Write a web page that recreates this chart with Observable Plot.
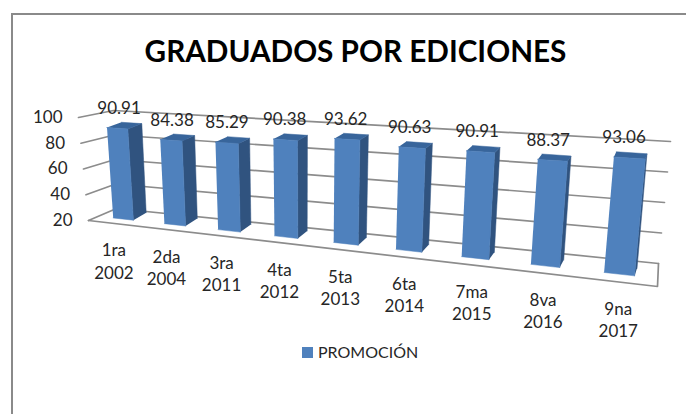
<!DOCTYPE html>
<html lang="es">
<head>
<meta charset="utf-8">
<script src="https://cdn.jsdelivr.net/npm/d3@7"></script>
<script src="https://cdn.jsdelivr.net/npm/@observablehq/plot@0.6"></script>
<style>
  html, body { margin: 0; padding: 0; background: #fff; }
  #chart { position: relative; width: 686px; height: 414px; overflow: hidden; font-family: Lato, sans-serif; box-sizing: border-box; }
  #frame { position: absolute; left: 11px; top: 13px; right: -4px; bottom: -4px; border: 2px solid #8a8a8a; }
  #title { position: absolute; left: 0; top: 30px; width: 711px; text-align: center; font-size: 29.7px; font-weight: 700; color: #000; line-height: 42px; white-space: nowrap; }
  #plot { position: absolute; left: 0; top: 80px; }
  #legend { position: absolute; left: 302px; top: 342px; display: flex; align-items: center; gap: 5px; font-size: 16px; color: #262626; line-height: 20px; }
  #legend i { display: block; width: 11px; height: 11px; background: #4f81bd; }
</style>
</head>
<body>
<div id="chart">
  <div id="frame"></div>
  <div id="title">GRADUADOS POR EDICIONES</div>
  <div id="plot"></div>
  <div id="legend"><i></i><span>PROMOCIÓN</span></div>
</div>
<script>
const ediciones = ["1ra", "2da", "3ra", "4ta", "5ta", "6ta", "7ma", "8va", "9na"];
const anios = ["2002", "2004", "2011", "2012", "2013", "2014", "2015", "2016", "2017"];
const promocion = [90.91, 84.38, 85.29, 90.38, 93.62, 90.63, 90.91, 88.37, 93.06];
const ticks = [100, 80, 60, 40, 20];

// The 3D box of the Excel chart: where its corners land in the picture.
const box = {
  frontLeft: {bottom: [88, 220], top: [78, 117]},
  backLeft: {bottom: [116, 208], top: [113, 110]},
  frontRight: {bottom: [657, 286], top: [670, 153]},
  backRight: {bottom: [658, 263], top: [670, 141]}
};
const lerp = (a, b, f) => a + (b - a) * f;
const mix = (a, b, f) => [lerp(a[0], b[0], f), lerp(a[1], b[1], f)];
const valueFrac = (d) => (d - 20) / 80;
const keystone = 1.26;
const along = (u) => u / (u + keystone * (1 - u));
function project(t, v, w) {
  const L = mix(mix(box.frontLeft.bottom, box.frontLeft.top, v), mix(box.backLeft.bottom, box.backLeft.top, v), w);
  const R = mix(mix(box.frontRight.bottom, box.frontRight.top, v), mix(box.backRight.bottom, box.backRight.top, v), w);
  return mix(L, R, t);
}
const n = promocion.length;
const frontDepth = 0.35, halfBar = 0.2;
const slot = (i, off) => along((i + 0.5 + off) / n);
const deep = (p, t, v) => [p[0] + lerp(lerp(13.5, 2, t), lerp(15, 1, t), v), p[1] + lerp(-7.5, -5, v)];
const pt = (p, key) => ({x: p[0], y: p[1], key});

const front = [], side = [], lid = [];
promocion.forEach((val, i) => {
  const v = valueFrac(val);
  const tl = slot(i, -halfBar), tr = slot(i, halfBar);
  const a = project(tl, 0, frontDepth), b = project(tr, 0, frontDepth);
  const c = project(tr, v, frontDepth), d = project(tl, v, frontDepth);
  [a, b, c, d].forEach((p) => front.push(pt(p, i)));
  [b, c, deep(c, tr, v), deep(b, tr, 0)].forEach((p) => side.push(pt(p, i)));
  [d, c, deep(c, tr, v), deep(d, tl, v)].forEach((p) => lid.push(pt(p, i)));
});

const grid = [];
ticks.forEach((tick) => {
  const v = valueFrac(tick);
  [project(0, v, 0), project(0, v, 1), project(1, v, 1)].forEach((p) => grid.push(pt(p, tick)));
});
const floor = [project(0, 0, 0), project(1, 0, 0), project(1, 0, 1)].map((p) => pt(p, "floor"));

const valueLabels = promocion.map((val, i) => {
  const t = slot(i, 0);
  const p = project(t, valueFrac(val), frontDepth);
  return {x: p[0] + lerp(2, -6, t), y: p[1] - 20, text: val.toFixed(2)};
});
const catLabels = ediciones.map((e, i) => {
  const p = project(slot(i, 0), 0, 0);
  return {x: p[0], y: p[1] + 37, text: e + "\n" + anios[i]};
});
const tickLabels = ticks.map((tick) => {
  const p = project(0, valueFrac(tick), 0);
  return {x: p[0] - 16, y: p[1], text: String(tick)};
});

const textStyle = {x: "x", y: "y", text: "text", fontSize: 17, fill: "#262626"};
const chart = Plot.plot({
  width: 686,
  height: 262,
  margin: 0,
  x: {type: "linear", domain: [0, 686], range: [0, 686], axis: null},
  y: {type: "linear", domain: [80, 342], range: [0, 262], axis: null},
  style: {fontFamily: "Lato, sans-serif", background: "transparent", overflow: "visible"},
  marks: [
    Plot.line(grid, {x: "x", y: "y", z: "key", stroke: "#8c8c8c", strokeWidth: 1.7}),
    Plot.line(floor, {x: "x", y: "y", z: "key", stroke: "#8c8c8c", strokeWidth: 1.7}),
    Plot.line(side, {x: "x", y: "y", z: "key", fill: "#30537f", stroke: "#30537f", strokeWidth: 0.5}),
    Plot.line(lid, {x: "x", y: "y", z: "key", fill: "#38659b", stroke: "#38659b", strokeWidth: 0.5}),
    Plot.line(front, {x: "x", y: "y", z: "key", fill: "#4f81bd", stroke: "#4f81bd", strokeWidth: 0.5}),
    Plot.text(valueLabels, textStyle),
    Plot.text(catLabels, {...textStyle, lineHeight: 1.3}),
    Plot.text(tickLabels, {...textStyle, textAnchor: "end"})
  ]
});
document.getElementById("plot").append(chart);
</script>
</body>
</html>
